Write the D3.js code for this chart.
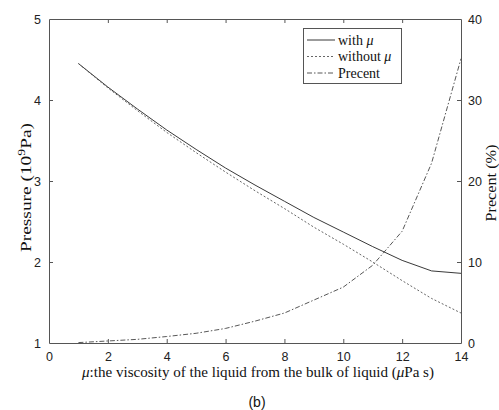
<!DOCTYPE html>
<html>
<head>
<meta charset="utf-8">
<script src="https://cdn.jsdelivr.net/npm/d3@7"></script>
<style>
  html, body { margin: 0; padding: 0; background: #fff; }
  svg { display: block; }
  .tick text { font-family: "Liberation Sans", Arial, sans-serif; font-size: 12.5px; fill: #222; }
</style>
</head>
<body>
<svg id="chart" width="499" height="410"></svg>
<script>
// viscosity μ (μPa s)
const mu = [1, 2, 3, 4, 5, 6, 7, 8, 9, 10, 11, 12, 13, 14];
// pressure with viscous term (10^9 Pa)
const withMu = [4.45, 4.16, 3.89, 3.63, 3.39, 3.16, 2.95, 2.75, 2.55, 2.37, 2.19, 2.02, 1.89, 1.86];
// pressure without viscous term (10^9 Pa)
const withoutMu = [4.45, 4.15, 3.87, 3.60, 3.35, 3.11, 2.88, 2.66, 2.43, 2.22, 2.00, 1.77, 1.55, 1.37];
// relative difference (%)
const percent = [0.05, 0.25, 0.45, 0.8, 1.2, 1.8, 2.7, 3.7, 5.3, 6.9, 9.6, 13.8, 22.2, 35.1];

const xTicks = [0, 2, 4, 6, 8, 10, 12, 14];
const yLeftTicks = [1, 2, 3, 4, 5];
const yRightTicks = [0, 10, 20, 30, 40];

const svg = d3.select("#chart");
const L = 49, R = 461, T = 19, B = 343;
const axisColor = "#555";
const serif = "'Liberation Serif', 'Times New Roman', serif";

const x = d3.scaleLinear().domain([0, 14]).range([L, R]);
const yL = d3.scaleLinear().domain([1, 5]).range([B, T]);
const yR = d3.scaleLinear().domain([0, 40]).range([B, T]);
const fmt = d3.format("d");

// axes with inward ticks
const gx = svg.append("g").attr("transform", `translate(0,${B})`)
  .call(d3.axisBottom(x).tickValues(xTicks).tickFormat(fmt).tickSizeInner(-4).tickSizeOuter(0).tickPadding(9));
const gxt = svg.append("g").attr("transform", `translate(0,${T})`)
  .call(d3.axisTop(x).tickValues(xTicks).tickSizeInner(-4).tickSizeOuter(0).tickFormat(""));
const gyl = svg.append("g").attr("transform", `translate(${L},0)`)
  .call(d3.axisLeft(yL).tickValues(yLeftTicks).tickFormat(fmt).tickSizeInner(-4).tickSizeOuter(0).tickPadding(8));
const gyr = svg.append("g").attr("transform", `translate(${R},0)`)
  .call(d3.axisRight(yR).tickValues(yRightTicks).tickFormat(fmt).tickSizeInner(-4).tickSizeOuter(0).tickPadding(7));

[gx, gxt, gyl, gyr].forEach(g => {
  g.selectAll(".domain").attr("stroke", axisColor).attr("stroke-width", 1);
  g.selectAll(".tick line").attr("stroke", axisColor);
});
gxt.selectAll(".tick").filter(d => d === 0 || d === 14).select("line").remove();
gx.selectAll(".tick").filter(d => d === 0 || d === 14).select("line").remove();
gyl.selectAll(".tick").filter(d => d === 1 || d === 5).select("line").remove();
gyr.selectAll(".tick").filter(d => d === 0 || d === 40).select("line").remove();

// curves
const lineL = d3.line().x((d, i) => x(mu[i])).y(d => yL(d));
const lineR = d3.line().x((d, i) => x(mu[i])).y(d => yR(d));

const styles = {
  with: { color: "#222", dash: null },
  without: { color: "#555", dash: "2,2" },
  pct: { color: "#444", dash: "5,2,1.5,2" }
};

svg.append("path").datum(withMu).attr("d", lineL)
  .attr("fill", "none").attr("stroke", styles.with.color).attr("stroke-width", 0.9);
svg.append("path").datum(withoutMu).attr("d", lineL)
  .attr("fill", "none").attr("stroke", styles.without.color).attr("stroke-width", 0.9)
  .attr("stroke-dasharray", styles.without.dash);
svg.append("path").datum(percent).attr("d", lineR)
  .attr("fill", "none").attr("stroke", styles.pct.color).attr("stroke-width", 0.9)
  .attr("stroke-dasharray", styles.pct.dash);

// legend
const lg = svg.append("g");
lg.append("rect").attr("x", 303.5).attr("y", 28.5).attr("width", 98).attr("height", 55)
  .attr("fill", "#fff").attr("stroke", axisColor).attr("stroke-width", 1);
const legendItems = [
  { label: "with ", s: styles.with },
  { label: "without ", s: styles.without },
  { label: "Precent", s: styles.pct, plain: true }
];
legendItems.forEach((it, i) => {
  const yy = 40 + i * 16.5;
  lg.append("line").attr("x1", 307).attr("x2", 335).attr("y1", yy).attr("y2", yy)
    .attr("stroke", it.s.color).attr("stroke-width", 0.9)
    .attr("stroke-dasharray", it.s.dash);
  const t = lg.append("text").attr("x", 338).attr("y", yy + 4.5)
    .attr("font-family", serif).attr("font-size", 14).attr("fill", "#111").text(it.label);
  if (!it.plain) t.append("tspan").attr("font-style", "italic").text("μ");
});

// axis titles
const yt = svg.append("text")
  .attr("transform", `translate(31,187.5) rotate(-90)`)
  .attr("text-anchor", "middle").attr("font-family", serif).attr("font-size", 14).attr("fill", "#111")
  .attr("textLength", 129).attr("lengthAdjust", "spacingAndGlyphs");
yt.append("tspan").text("Pressure  (10");
yt.append("tspan").attr("font-size", 10).attr("dy", -6).text("9");
yt.append("tspan").attr("dy", 6).text("Pa)");

svg.append("text")
  .attr("transform", `translate(496,183) rotate(-90)`)
  .attr("text-anchor", "middle").attr("font-family", serif).attr("font-size", 14).attr("fill", "#111")
  .attr("textLength", 77).attr("lengthAdjust", "spacingAndGlyphs")
  .text("Precent (%)");

const xt = svg.append("text").attr("x", 258).attr("y", 377)
  .attr("text-anchor", "middle").attr("font-family", serif).attr("font-size", 14.5).attr("fill", "#111")
  .attr("textLength", 352).attr("lengthAdjust", "spacingAndGlyphs");
xt.append("tspan").attr("font-style", "italic").text("μ");
xt.append("tspan").text(":the viscosity of the liquid from the bulk of liquid (");
xt.append("tspan").attr("font-style", "italic").text("μ");
xt.append("tspan").text("Pa s)");

svg.append("text").attr("x", 257).attr("y", 407).attr("text-anchor", "middle")
  .attr("font-family", "'Liberation Sans', Arial, sans-serif").attr("font-size", 14).attr("fill", "#111")
  .text("(b)");
</script>
</body>
</html>
